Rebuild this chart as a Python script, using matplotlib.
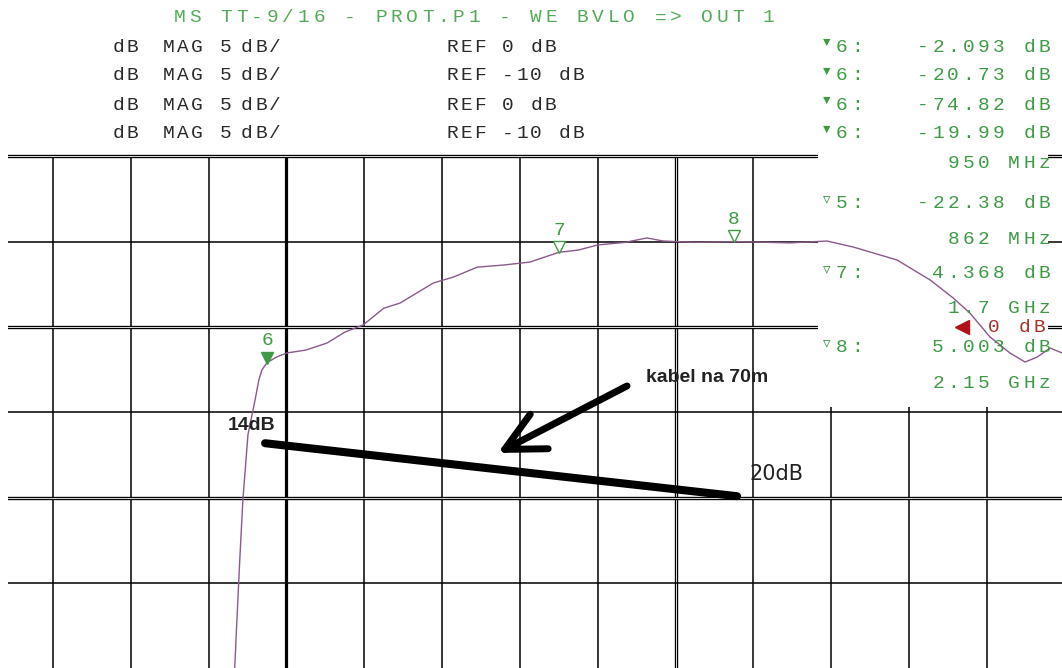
import matplotlib
matplotlib.use("Agg")
import matplotlib.pyplot as plt
from matplotlib.patches import Rectangle
from matplotlib.transforms import offset_copy, blended_transform_factory

freq_mhz = [862, 873, 880, 888, 901, 919, 929, 937, 950, 975, 1001, 1050, 1104, 1150,
            1197, 1250, 1292, 1377, 1430, 1490, 1560, 1626, 1700, 1750, 1800, 1870,
            1926, 1968, 2050, 2150, 2294, 2389, 2456, 2569, 2654, 2713, 2756, 2808,
            2859, 2898, 2929, 2962, 2993]
gain_db = [-22.38, -16.97, -13.6, -10.1, -6.3, -4.3, -3.1, -2.5, -2.09, -1.75, -1.52, -1.35,
           -0.94, -0.3, 0.12, 1.1, 1.4, 2.57, 2.93, 3.5, 3.63, 3.8, 4.37, 4.5, 4.8, 4.95,
           5.21, 5.03, 4.95, 5.0, 4.92, 5.03, 4.68, 3.92, 2.75, 1.7, 0.82, -0.59,
           -1.52, -2.05, -1.76, -1.23, -1.52]

# markers
marker_ids = ['6', '7', '8']
marker_freq = [950, 1700, 2150]
marker_db = [-2.093, 4.368, 5.003]
marker_filled = [True, False, False]

# grid (5 dB/div, 200 MHz/div)
vgrid_mhz = [400, 600, 800, 1000, 1200, 1400, 1600, 1800, 2000, 2200, 2400, 2600, 2800]
hgrid_db = [10, 5, 0, -5, -10, -15]
double_h = [10, 0, -10]
double_v = [2000]
thick_v = [1000]
ref_level_db = 0

# header / marker readout text
title = "MS TT-9/16 - PROT.P1 - WE BVLO => OUT 1"
ref_rows = ["REF 0 dB", "REF -10 dB", "REF 0 dB", "REF -10 dB"]
m6_values = ["-2.093 dB", "-20.73 dB", "-74.82 dB", "-19.99 dB"]
readout = [("\u25bd", "5:", "-22.38 dB", "862 MHz"),
           ("\u25bd", "7:", "4.368 dB", "1.7 GHz"),
           ("\u25bd", "8:", "5.003 dB", "2.15 GHz")]

# hand drawn notes
cable_freq = [945, 2158]
cable_db = [-6.8, -9.9]
cable_labels = ['14dB', '20dB']
arrow_tail = (1875, -3.45)
arrow_tip = (1543, -7.37)
arrow_text = 'kabel na 70m'

W, H = 1062, 668
GREEN = '#3f9a45'
LGREEN = '#55aa5a'
DARK = '#2a2a2a'
TRACE = '#8a5a8a'
MONO = ['Liberation Mono', 'DejaVu Sans Mono', 'DejaVu Sans']

fig = plt.figure(figsize=(W / 100, H / 100), dpi=100)
fig.patch.set_facecolor('white')
ax = fig.add_axes([8 / W, 0, (W - 8) / W, 1])
ax.set_xlim(284.4, 2992.8)
ax.set_ylim(-19.95, 19.13)
ax.axis('off')


def lcd(x, y, s, pitch=15.2, size=14, color=GREEN, align='left', z=5):
    # fixed pitch text like the analyzer font, x/y in screen pixels
    if align == 'right':
        x = x - len(s) * pitch
    for i, ch in enumerate(s):
        if ch == ' ':
            continue
        fig.text((x + (i + 0.5) * pitch) / W, 1 - y / H, ch, ha='center', va='center',
                 fontsize=size, color=color, family=MONO, zorder=z)


# grid
top = hgrid_db[0]
for f in vgrid_mhz:
    if f in thick_v:
        ax.vlines(f, -25, top, color='k', lw=2.3, zorder=1)
    elif f in double_v:
        ax.vlines(f, -25, top, color='k', lw=2.4, zorder=1)
        ax.vlines(f, -25, top, color='white', lw=0.6, zorder=1)
    else:
        ax.vlines(f, -25, top, color='k', lw=1.1, zorder=1)
for d in hgrid_db:
    if d in double_h:
        ax.axhline(d, color='k', lw=2.4, zorder=1)
        ax.axhline(d, color='white', lw=0.6, zorder=1)
    else:
        ax.axhline(d, color='k', lw=1.1, zorder=1)

# readout panel covers the grid in the top right
ax.add_patch(Rectangle((818 / W, 1 - 407 / H), 230 / W, 260 / H, transform=fig.transFigure,
                       facecolor='white', edgecolor='none', zorder=2, clip_on=False))

# header
lcd(172, 18, title, pitch=15.5, color=LGREEN)
for k, y in enumerate([47, 76, 105, 134]):
    lcd(112, y, "dB", pitch=13.5, color=DARK)
    lcd(162, y, "MAG", pitch=14, color=DARK)
    lcd(219, y, "5", pitch=14, color=DARK)
    lcd(240, y, "dB/", pitch=14, color=DARK)
    lcd(445, y, ref_rows[k], pitch=14, color=DARK)
    fig.text(827 / W, 1 - (y - 4) / H, "\u25bc", ha='center', va='center', fontsize=9,
             color=GREEN, family=MONO, zorder=5)
    lcd(834, y, "6:")
    lcd(1052, y, m6_values[k], align='right')
lcd(1052, 163, "950 MHz", align='right')
for (sym, lab, val, fr), y in zip(readout, [203, 273, 347]):
    fig.text(827 / W, 1 - (y - 4) / H, sym, ha='center', va='center', fontsize=9,
             color=GREEN, family=MONO, zorder=5)
    lcd(834, y, lab)
    lcd(1052, y, val, align='right')
    lcd(1052, y + 36, fr, align='right')

# reference level pointer
bt = blended_transform_factory(fig.transFigure, ax.transData)
ax.plot([962 / W], [ref_level_db], marker='<', ms=10, color='#b0141a', transform=bt,
        zorder=6, clip_on=False)
lcd(1047, 327, "0 dB", color='#a8302c', align='right')

# trace
ax.plot(freq_mhz, gain_db, color=TRACE, lw=1.0, zorder=7)

# markers
up = offset_copy(ax.transData, fig=fig, x=0, y=5, units='dots')
for mid, f, d, filled in zip(marker_ids, marker_freq, marker_db, marker_filled):
    ax.plot([f], [d], marker='v', ms=8.5, transform=up, color=GREEN,
            mfc=GREEN if filled else 'white', mec=GREEN, mew=1, zorder=8)
    ax.annotate(mid, (f, d), xytext=(0, 16), textcoords='offset points', ha='center',
                va='center', fontsize=14, color=GREEN, family=MONO, zorder=8)

# cable loss note
ax.plot(cable_freq, cable_db, color='k', lw=5.8, solid_capstyle='round', zorder=9)
ax.annotate(cable_labels[0], (cable_freq[0], cable_db[0]), xytext=(-10, 13),
            textcoords='offset points', ha='center', va='center', fontsize=14,
            fontweight='bold', color='#222222', family=['Liberation Sans', 'DejaVu Sans'], zorder=9)
ax.annotate(cable_labels[1], (cable_freq[1], cable_db[1]), xytext=(28, 16),
            textcoords='offset points', ha='center', va='center', fontsize=15,
            color='#222222', family=['Liberation Sans Narrow', 'DejaVu Sans'], zorder=9)
ax.annotate('', xy=arrow_tip, xytext=arrow_tail,
            arrowprops=dict(arrowstyle='->,head_length=0.7,head_width=0.35', lw=5, color='k',
                            mutation_scale=40, shrinkA=0, shrinkB=0, capstyle='round',
                            joinstyle='round'), zorder=9)
ax.annotate(arrow_text, arrow_tail, xytext=(14, 6), textcoords='offset points', ha='left',
            va='center', fontsize=14, fontweight='bold', color='#222222',
            family=['Liberation Sans', 'DejaVu Sans'], zorder=9)

fig.savefig('out.png', dpi=100)
